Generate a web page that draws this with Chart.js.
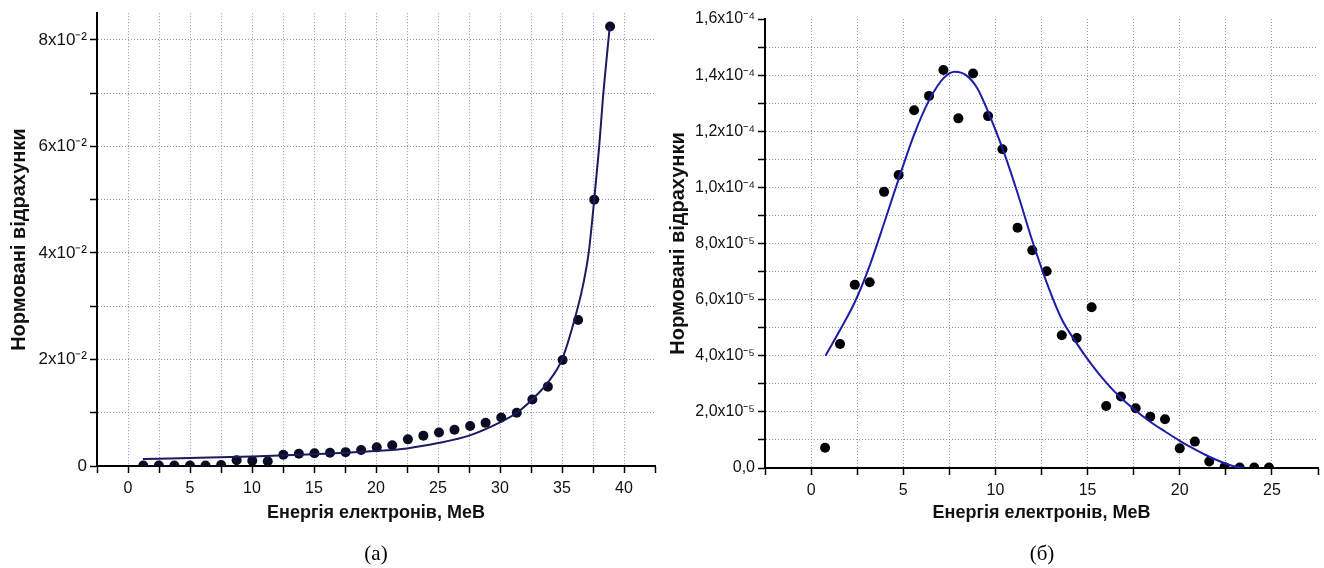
<!DOCTYPE html>
<html>
<head>
<meta charset="utf-8">
<script src="https://cdn.jsdelivr.net/npm/chart.js@4.4.0/dist/chart.umd.min.js"></script>
<style>
body { margin: 0; background: #fff; }
#wrap { position: relative; width: 1324px; height: 568px; background: #fff; }
.box { position: absolute; top: 0; width: 662px; height: 568px; }
.cap { position: absolute; top: 541px; font-family: "Liberation Serif", "Times New Roman", serif; font-size: 21px; color: #000; transform: translateX(-50%); }
</style>
</head>
<body>
<div id="wrap">
  <div class="box" style="left:0"><canvas id="chartA" width="662" height="568"></canvas></div>
  <div class="box" style="left:662px"><canvas id="chartB" width="662" height="568"></canvas></div>
  <div class="cap" style="left:376px">(а)</div>
  <div class="cap" style="left:1042px">(б)</div>
</div>
<script>
// panel (а): measured points and fit
var energyA = [1.23, 2.49, 3.74, 5.0, 6.25, 7.51, 8.76, 10.02, 11.27, 12.53, 13.78, 15.04, 16.29, 17.55, 18.8, 20.06,
  21.31, 22.57, 23.82, 25.08, 26.33, 27.59, 28.84, 30.1, 31.35, 32.61, 33.86, 35.05, 36.3, 37.6, 38.88];
var countsA = [0.0001, 0.0001, 0.0001, 0.0001, 0.0001, 0.0002, 0.0011, 0.001, 0.0009, 0.0021, 0.0023, 0.0024, 0.0025, 0.0026, 0.003, 0.0035,
  0.0039, 0.005, 0.0057, 0.0063, 0.0068, 0.0075, 0.0081, 0.0091, 0.01, 0.0125, 0.0149, 0.0199, 0.0274, 0.05, 0.0825];
var fitEnergyA = [1.2, 5, 10, 15, 20, 22.5, 25, 27.5, 30, 31.3, 32.6, 33.8, 35, 36.3, 36.7, 37.15, 37.6, 38.0, 38.3, 38.85];
var fitCountsA = [0.0013, 0.0015, 0.0018, 0.0022, 0.0028, 0.0033, 0.0043, 0.0057, 0.0082, 0.0099, 0.0125, 0.0155, 0.02, 0.03, 0.034, 0.04, 0.05, 0.06, 0.069, 0.0825];

// panel (б): measured points and fit
var energyB = [0.76, 1.57, 2.37, 3.18, 3.96, 4.75, 5.59, 6.4, 7.18, 7.99, 8.79, 9.6, 10.38, 11.2, 12.0, 12.78,
  13.6, 14.41, 15.22, 16.01, 16.81, 17.61, 18.4, 19.2, 20.0, 20.82, 21.6, 22.43, 23.25, 24.04, 24.84];
var countsB = [7.2e-6, 4.42e-5, 6.53e-5, 6.62e-5, 9.84e-5, 1.044e-4, 1.275e-4, 1.326e-4, 1.418e-4, 1.246e-4, 1.406e-4, 1.254e-4, 1.136e-4, 8.56e-5, 7.76e-5, 7.01e-5,
  4.73e-5, 4.63e-5, 5.73e-5, 2.21e-5, 2.55e-5, 2.13e-5, 1.83e-5, 1.74e-5, 7.0e-6, 9.4e-6, 2.3e-6, 3e-7, 2e-7, 2e-7, 2e-7];
var fitEnergyB = [0.78, 1.6, 2.4, 3.2, 4.0, 4.75, 5.6, 6.4, 7.2, 7.8, 8.4, 9.0, 9.6, 10.4, 11.2, 12.0, 12.9, 13.6, 14.4,
  15.2, 16.0, 16.8, 17.6, 18.4, 19.2, 20.0, 20.8, 21.6, 22.4, 23.0, 23.5];
var fitCountsB = [4.0e-5, 4.95e-5, 5.95e-5, 7.25e-5, 8.8e-5, 1.03e-4, 1.19e-4, 1.31e-4, 1.39e-4, 1.412e-4, 1.4e-4, 1.355e-4, 1.27e-4, 1.136e-4, 9.8e-5, 8.1e-5, 6.4e-5, 5.3e-5, 4.45e-5,
  3.7e-5, 3.05e-5, 2.5e-5, 2.05e-5, 1.65e-5, 1.3e-5, 9.7e-6, 6.7e-6, 4.0e-6, 1.8e-6, 5e-7, 0];

var xTitle = "Енергія електронів, МеВ";
var yTitle = "Нормовані відрахунки";

var gridColor = "#8f93b8";
var sans = "'Liberation Sans', Arial, sans-serif";

function pairs(xs, ys) {
  return xs.map(function(x, i) { return { x: x, y: ys[i] }; });
}

function near(a, b) { return Math.abs(a - b) < 1e-9; }

function makeChart(id, cfg) {
  return new Chart(document.getElementById(id), {
    type: "scatter",
    data: {
      datasets: [{
        data: pairs(cfg.fitX, cfg.fitY),
        showLine: true,
        borderColor: cfg.lineColor,
        borderWidth: 2,
        pointRadius: 0,
        cubicInterpolationMode: "monotone"
      }, {
        data: pairs(cfg.x, cfg.y),
        backgroundColor: cfg.dotColor,
        borderColor: cfg.dotColor,
        borderWidth: 0,
        pointRadius: cfg.dotRadius
      }]
    },
    options: {
      responsive: false,
      devicePixelRatio: 1,
      animation: false,
      layout: { padding: { top: cfg.top, right: cfg.right, left: 0, bottom: 0 } },
      plugins: { legend: { display: false }, tooltip: { enabled: false } },
      scales: {
        x: {
          type: "linear",
          min: cfg.xmin, max: cfg.xmax,
          afterFit: function(s) { s.height = cfg.xAxisH; },
          border: { display: true, color: "#000", width: 2, dash: [1, 2] },
          grid: {
            color: function(c) {
              var v = c.tick.value;
              return (near(v, cfg.xmin) || near(v, cfg.xmax)) ? "rgba(0,0,0,0)" : gridColor;
            },
            lineWidth: 1,
            tickColor: "#000",
            tickWidth: 1.5,
            tickBorderDash: [],
            tickLength: 7
          },
          ticks: {
            stepSize: 2.5,
            maxTicksLimit: 100,
            autoSkip: false,
            maxRotation: 0,
            padding: 6,
            color: "#111",
            font: { family: sans, size: 16 },
            callback: function(v) {
              var r = Math.round(v * 10) / 10;
              return (r >= 0 && r <= cfg.xLabelMax && Math.abs(r % 5) < 1e-6) ? String(r) : "";
            }
          },
          title: {
            display: true,
            text: xTitle,
            color: "#111",
            font: { family: sans, size: 18, weight: "bold" },
            padding: { top: 0, bottom: cfg.xTitlePad }
          }
        },
        y: {
          type: "linear",
          min: 0, max: cfg.ymax,
          afterFit: function(s) { s.width = cfg.yAxisW; },
          border: { display: true, color: "#000", width: 2, dash: [1, 2] },
          grid: {
            color: function(c) {
              var v = c.tick.value;
              return (near(v, 0) || near(v, cfg.ymax)) ? "rgba(0,0,0,0)" : gridColor;
            },
            lineWidth: 1,
            tickColor: "#000",
            tickWidth: 1.5,
            tickBorderDash: [],
            tickLength: 7
          },
          ticks: {
            stepSize: cfg.ystep,
            maxTicksLimit: 100,
            includeBounds: false,
            autoSkip: false,
            padding: 3,
            color: "#111",
            font: { family: sans, size: cfg.yFont },
            callback: cfg.yLabel
          },
          title: {
            display: true,
            text: yTitle,
            color: "#111",
            font: { family: sans, size: 20, weight: "bold" },
            padding: { top: cfg.yTitlePad, bottom: 0 }
          }
        }
      }
    }
  });
}

makeChart("chartA", {
  x: energyA, y: countsA, fitX: fitEnergyA, fitY: fitCountsA,
  lineColor: "#1b1b5e", dotColor: "#0b0b24", dotRadius: 5,
  xmin: -2.5, xmax: 42.5, xLabelMax: 40, ymax: 0.085, ystep: 0.01,
  top: 13, right: 7, xAxisH: 102, yAxisW: 97, xTitlePad: 44, yTitlePad: 7, yFont: 17,
  yLabel: function(v) {
    var n = Math.round(v * 100);
    if (n === 0) return "0";
    if (n % 2) return "";
    return n + "x10\u207B\u00B2";
  }
});

makeChart("chartB", {
  x: energyB, y: countsB, fitX: fitEnergyB, fitY: fitCountsB,
  lineColor: "#1d1da6", dotColor: "#000000", dotRadius: 5,
  xmin: -2.5, xmax: 27.5, xLabelMax: 25, ymax: 1.6e-4, ystep: 1e-5,
  top: 19, right: 4, xAxisH: 100, yAxisW: 103, xTitlePad: 44, yTitlePad: 4, yFont: 16,
  yLabel: function(v) {
    var n = Math.round(v * 1e5);
    if (n === 0) return "0,0";
    if (n % 2) return "";
    if (n >= 10) return (n / 10).toFixed(1).replace(".", ",") + "x10\u207B\u2074";
    return n + ",0x10\u207B\u2075";
  }
});
</script>
</body>
</html>
